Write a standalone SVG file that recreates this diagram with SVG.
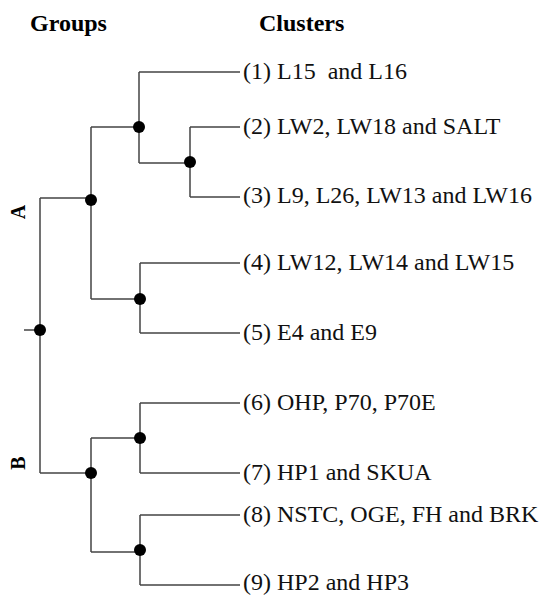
<svg xmlns="http://www.w3.org/2000/svg" width="547" height="595" viewBox="0 0 547 595">
<style>
.e{stroke:#444;stroke-width:1.5;fill:none}
.d{fill:#000}
.h{font-weight:bold;font-size:24px;fill:#000}
.t{font-size:24px;fill:#111}
.g{font-weight:bold;font-size:20px;fill:#000}
</style>
<rect width="547" height="595" fill="#fff"/>
<g font-family="'Liberation Serif','Times New Roman',Tinos,'DejaVu Serif',serif">
<text class="h" x="30" y="31">Groups</text>
<text class="h" x="259" y="31">Clusters</text>
<text class="g" transform="translate(25,212) rotate(-90)" text-anchor="middle">A</text>
<text class="g" transform="translate(25,463) rotate(-90)" text-anchor="middle">B</text>
<g id="connectors">
<path class="e" d="M24 330H40M40 198V473M40 198H91M40 473H91"/>
<path class="e" d="M91 127V299M91 127H139M91 299H140"/>
<path class="e" d="M139 72V163M139 72H240M139 163H190"/>
<path class="e" d="M190 127V197M190 127H240M190 197H240"/>
<path class="e" d="M140 263V333M140 263H240M140 333H240"/>
<path class="e" d="M91 438V552M91 438H140M91 552H140"/>
<path class="e" d="M140 403V473M140 403H240M140 473H240"/>
<path class="e" d="M140 515V585M140 515H240M140 585H240"/>
</g>
<g id="node-root"><circle class="d" cx="40" cy="330" r="6"/></g>
<g id="node-A"><circle class="d" cx="91" cy="200" r="6"/></g>
<g id="node-A1"><circle class="d" cx="139" cy="127" r="6"/></g>
<g id="node-A11"><circle class="d" cx="190" cy="162" r="6"/></g>
<g id="node-A2"><circle class="d" cx="140" cy="299" r="6"/></g>
<g id="node-B"><circle class="d" cx="91" cy="473" r="6"/></g>
<g id="node-B1"><circle class="d" cx="140" cy="438" r="6"/></g>
<g id="node-B2"><circle class="d" cx="140" cy="550" r="6"/></g>
<g id="leaf-1"><text class="t" x="243" y="79" xml:space="preserve">(1) L15  and L16</text></g>
<g id="leaf-2"><text class="t" x="243" y="134">(2) LW2, LW18 and SALT</text></g>
<g id="leaf-3"><text class="t" x="243" y="203">(3) L9, L26, LW13 and LW16</text></g>
<g id="leaf-4"><text class="t" x="243" y="270">(4) LW12, LW14 and LW15</text></g>
<g id="leaf-5"><text class="t" x="243" y="340">(5) E4 and E9</text></g>
<g id="leaf-6"><text class="t" x="243" y="410">(6) OHP, P70, P70E</text></g>
<g id="leaf-7"><text class="t" x="243" y="480">(7) HP1 and SKUA</text></g>
<g id="leaf-8"><text class="t" x="243" y="522">(8) NSTC, OGE, FH and BRK</text></g>
<g id="leaf-9"><text class="t" x="243" y="590">(9) HP2 and HP3</text></g>
</g>
</svg>
